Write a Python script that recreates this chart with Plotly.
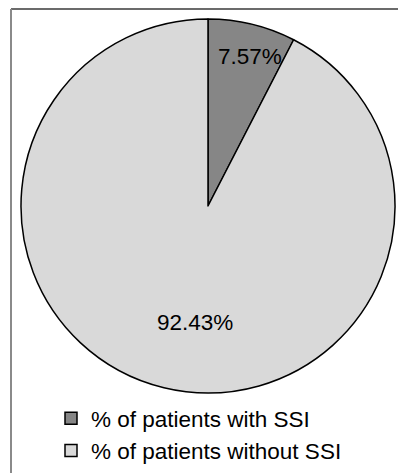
import math
import plotly.graph_objects as go

# Share of patients with and without surgical site infection
labels = ["% of patients with SSI", "% of patients without SSI"]
values = [7.57, 92.43]
colors = ["#868686", "#d9d9d9"]

W, H = 398, 473
FONT = "Liberation Sans, Arial, sans-serif"
FS = 22.5

# pie placement in pixels (left, right, top, bottom)
px_l, px_r, px_t, px_b = 21, 395, 19, 393

fig = go.Figure(
    go.Pie(
        labels=labels,
        values=values,
        sort=False,
        direction="clockwise",
        rotation=0,
        marker=dict(colors=colors, line=dict(color="#000000", width=1.5)),
        textinfo="none",
        hoverinfo="label+value",
        domain=dict(x=[px_l / W, px_r / W], y=[1 - px_b / H, 1 - px_t / H]),
    )
)

# value labels placed along each slice's mid-angle
cx = (px_l + px_r) / 2
cy = (px_t + px_b) / 2
rad = (px_r - px_l) / 2
radial = [0.82, 0.64]
total = sum(values)
cum = 0.0
for v, k in zip(values, radial):
    mid = 2 * math.pi * (cum + v / 2) / total
    cum += v
    lx = cx + k * rad * math.sin(mid) + (15 if k < 0.7 else 6)
    ly = cy - k * rad * math.cos(mid)
    fig.add_annotation(
        x=lx / W, y=1 - ly / H, xref="paper", yref="paper",
        text=f"{v:.2f}%", showarrow=False,
        font=dict(family=FONT, size=FS, color="#000000"),
        xanchor="center", yanchor="middle",
    )

# frame lines along the top and left edges
fig.add_shape(type="line", xref="paper", yref="paper",
              x0=11 / W, x1=1.0, y0=1 - 9 / H, y1=1 - 9 / H,
              line=dict(color="#3a3a3a", width=1.5))
fig.add_shape(type="line", xref="paper", yref="paper",
              x0=11 / W, x1=11 / W, y0=0, y1=1 - 9 / H,
              line=dict(color="#8a8a8a", width=2))

fig.update_layout(
    width=W,
    height=H,
    margin=dict(l=0, r=0, t=0, b=0),
    paper_bgcolor="#ffffff",
    plot_bgcolor="#ffffff",
    font=dict(family=FONT, color="#000000"),
    showlegend=True,
    legend=dict(
        orientation="v",
        x=51 / W,
        xanchor="left",
        y=1 - 397 / H,
        yanchor="top",
        font=dict(size=FS, color="#000000"),
        bgcolor="rgba(0,0,0,0)",
        itemclick=False,
    ),
)

fig.write_html("out.html")
